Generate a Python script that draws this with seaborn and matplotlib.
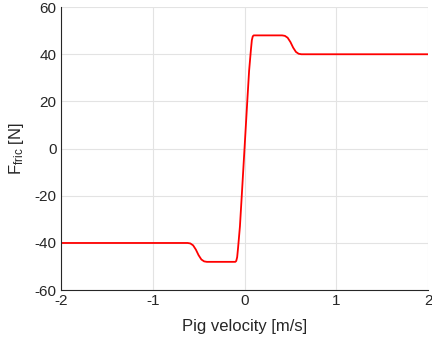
import matplotlib
matplotlib.use("Agg")
import matplotlib.pyplot as plt
import seaborn as sns
import pandas as pd

# Data
velocity = [-2.0, -0.62, -0.59, -0.56, -0.53, -0.50, -0.47, -0.44, -0.41,
            -0.10, -0.09, -0.08, -0.07, -0.05, -0.03, 0.0, 0.03, 0.05,
            0.07, 0.08, 0.09, 0.10,
            0.41, 0.44, 0.47, 0.50, 0.53, 0.56, 0.59, 0.62, 2.0]
friction = [-40.0, -40.0, -40.2, -41.0, -42.8, -45.2, -47.0, -47.8, -48.0,
            -48.0, -47.6, -46.0, -42.0, -33.0, -20.0, 0.0, 20.0, 33.0,
            42.0, 46.0, 47.6, 48.0,
            48.0, 47.8, 47.0, 45.2, 42.8, 41.0, 40.2, 40.0, 40.0]
x_ticks = [-2, -1, 0, 1, 2]
y_ticks = [-60, -40, -20, 0, 20, 40, 60]

df = pd.DataFrame({"v": velocity, "F": friction})

sns.set_style("white")
plt.rcParams["font.family"] = ["Liberation Sans", "DejaVu Sans"]
plt.rcParams["mathtext.fontset"] = "custom"
plt.rcParams["mathtext.rm"] = "Liberation Sans"
plt.rcParams["mathtext.it"] = "Liberation Sans"

fig = plt.figure(figsize=(4.32, 3.37), dpi=100)
ax = fig.add_axes([0.141, 0.139, 0.850, 0.840])

sns.lineplot(data=df, x="v", y="F", ax=ax, color="#ff0000", linewidth=1.3,
             sort=False, estimator=None)

ax.set_xlim(-2, 2)
ax.set_ylim(-60, 60)
ax.set_xticks(x_ticks)
ax.set_yticks(y_ticks)
ax.set_xticklabels([str(t) for t in x_ticks])
ax.set_yticklabels([str(t) for t in y_ticks])
ax.grid(True, color="#e3e3e3", linewidth=0.8)
ax.set_axisbelow(True)

for s in ["top", "right"]:
    ax.spines[s].set_visible(False)
for s in ["left", "bottom"]:
    ax.spines[s].set_color("#262626")
    ax.spines[s].set_linewidth(0.8)

ax.tick_params(direction="in", length=3.5, width=0.8, color="#262626",
               labelsize=11, labelcolor="#262626", pad=3)
ax.set_xlabel("Pig velocity [m/s]", fontsize=12, color="#262626", labelpad=8)
ax.set_ylabel(r"F$_{\mathrm{fric}}$ [N]", fontsize=12, color="#262626", labelpad=6)

fig.savefig("out.png", dpi=100)
